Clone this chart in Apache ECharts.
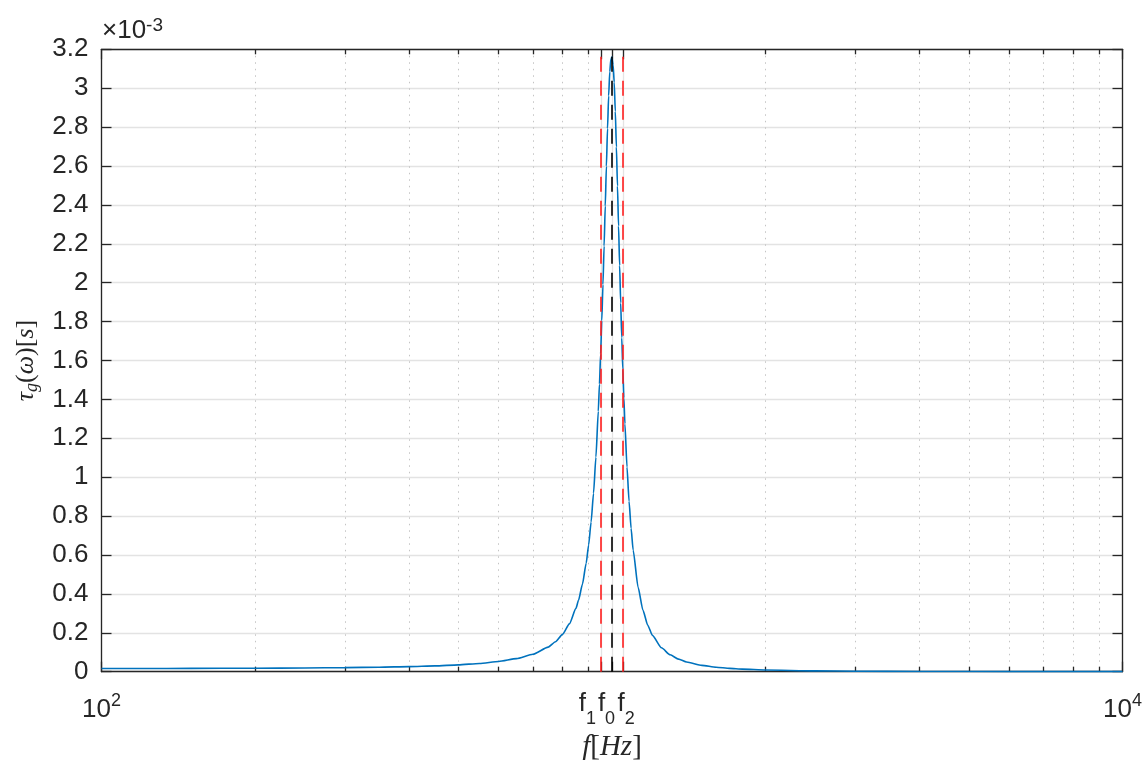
<!DOCTYPE html>
<html><head><meta charset="utf-8">
<script src="https://cdn.jsdelivr.net/npm/echarts@6/dist/echarts.min.js"></script>
<style>html,body{margin:0;padding:0;background:#fff}#c{width:1146px;height:760px}</style>
</head><body><div id="c"></div>
<script>
// ---- data ----
const freqHz = [100,120,150,200,250,300,350,400,450,500,550,600,650,700,750,775,800,825,850,860,875,890,900,910,920,930,940,945,950,955,960,965,970,975,980,985,990,995,1000,1005,1010,1015,1020,1025,1030,1035,1040,1045,1050,1055,1060,1070,1080,1090,1100,1125,1150,1175,1200,1250,1300,1350,1400,1500,1600,1700,1800,2000,2500,3000,4000,5000,7000,10000];
// group delay in units of 1e-3 s
const tauMs = [0.0164,0.0166,0.0170,0.0180,0.0192,0.0209,0.0232,0.0261,0.0300,0.0352,0.0424,0.0524,0.0670,0.0895,0.1262,0.1539,0.1919,0.2458,0.3255,0.3681,0.4490,0.5577,0.6517,0.769,0.9167,1.1033,1.3392,1.4787,1.634,1.8048,1.9906,2.189,2.394,2.599,2.7927,2.961,3.085,3.15,3.16,3.12,3.03,2.881,2.698,2.497,2.2908,2.088,1.8958,1.7172,1.5541,1.4068,1.2748,1.052,0.8761,0.7368,0.6258,0.4333,0.3153,0.2388,0.1867,0.1228,0.0868,0.0647,0.0500,0.0326,0.0230,0.0172,0.0134,0.0088,0.0042,0.0025,0.0012,0.0007,0.0003,0.0002];
const f0 = 1000, f1 = 951.25, f2 = 1051.25;
const xMajorTicks = [100, f1, f0, f2, 10000];
const xMinorTicks = [200,300,400,500,600,700,800,900,2000,3000,4000,5000,6000,7000,8000,9000];
const yMin = 0, yMax = 3.2, yStep = 0.2;

const TXT = '#262626';
const SANS = '"Liberation Sans", Arial, Helvetica, sans-serif';
const SERIF = '"Liberation Serif", "DejaVu Serif", serif';
const GRID = {left: 101.5, right: 23.5, top: 49.3, bottom: 88.3};

const chart = echarts.init(document.getElementById('c'), null, {renderer: 'canvas'});

const lblRich = {
  b: {fontSize: 26, fontFamily: SANS, color: TXT, verticalAlign: 'top', padding: [6.5, 0, 0, 0]},
  sup: {fontSize: 18, fontFamily: SANS, color: TXT, verticalAlign: 'top', padding: [1.5, 0, 0, 0]},
  bt: {fontSize: 26, fontFamily: SANS, color: TXT, verticalAlign: 'top', padding: [0, 0, 0, 0]},
  sub: {fontSize: 18, fontFamily: SANS, color: TXT, verticalAlign: 'top', padding: [19, 0, 0, 0]},
  gap1: {width: 27, fontSize: 1},
  gap0: {width: 11, fontSize: 1},
  gap2: {width: 6, fontSize: 1}
};
function xLabel(v) {
  if (Math.abs(v - 100) < 1e-6) return '{b|10}{sup|2}';
  if (Math.abs(v - 10000) < 1e-3) return '{b|10}{sup|4}';
  if (Math.abs(v - f1) < 1e-6) return '{bt|f}{sub|1}{gap1| }';
  if (Math.abs(v - f0) < 1e-6) return '{bt|f}{sub|0}{gap0| }';
  if (Math.abs(v - f2) < 1e-6) return '{gap2| }{bt|f}{sub|2}';
  return '';
}
const baseX = {type: 'log', logBase: 10, min: 100, max: 10000, gridIndex: 0};
const option = {
  animation: false,
  backgroundColor: '#fff',
  grid: Object.assign({outerBoundsMode: 'none', containLabel: false}, GRID),
  xAxis: [
    Object.assign({}, baseX, {
      position: 'bottom',
      name: '{i|f}{n|[}{i|Hz}{n|]}', nameLocation: 'middle', nameGap: 57,
      nameTextStyle: {rich: {
        i: {fontFamily: SERIF, fontStyle: 'italic', fontSize: 29, color: TXT},
        n: {fontFamily: SERIF, fontSize: 29, color: TXT}
      }},
      axisLine: {show: true, lineStyle: {color: TXT, width: 1.3}},
      axisTick: {show: true, inside: true, length: 10, customValues: xMajorTicks, lineStyle: {color: TXT, width: 1.3}},
      axisLabel: {show: true, customValues: xMajorTicks, formatter: xLabel, rich: lblRich, margin: 19, hideOverlap: false},
      splitLine: {show: true, lineStyle: {color: '#e3e3e3', width: 1.3}},
      minorTick: {show: false}
    }),
    Object.assign({}, baseX, {
      position: 'bottom',
      axisLine: {show: false},
      axisTick: {show: true, inside: true, length: 5, customValues: xMinorTicks, lineStyle: {color: TXT, width: 1.3}},
      axisLabel: {show: false},
      splitLine: {show: true, lineStyle: {color: '#c4c4c4', width: 1, type: [1.5, 5]}}
    }),
    Object.assign({}, baseX, {
      position: 'top',
      axisLine: {show: true, lineStyle: {color: TXT, width: 1.3}},
      axisTick: {show: true, inside: true, length: 10, customValues: xMajorTicks, lineStyle: {color: TXT, width: 1.3}},
      axisLabel: {show: false},
      splitLine: {show: false}
    }),
    Object.assign({}, baseX, {
      position: 'top',
      axisLine: {show: false},
      axisTick: {show: true, inside: true, length: 5, customValues: xMinorTicks, lineStyle: {color: TXT, width: 1.3}},
      axisLabel: {show: false},
      splitLine: {show: false}
    })
  ],
  yAxis: [
    {
      type: 'value', min: yMin, max: yMax, interval: yStep, position: 'left',
      name: '{i|τ}{sub|g}{n|(}{i|ω}{n|)[}{i|s}{n|]}', nameLocation: 'middle', nameGap: 60, nameRotate: 90,
      nameTextStyle: {rich: {
        i: {fontFamily: SERIF, fontStyle: 'italic', fontSize: 26, color: TXT, lineHeight: 30},
        n: {fontFamily: SERIF, fontSize: 26, color: TXT, lineHeight: 30},
        sub: {fontFamily: SERIF, fontStyle: 'italic', fontSize: 18, color: TXT, lineHeight: 12, verticalAlign: 'bottom'}
      }},
      axisLine: {show: true, lineStyle: {color: TXT, width: 1.3}},
      axisTick: {show: true, inside: true, length: 10, lineStyle: {color: TXT, width: 1.3}},
      axisLabel: {show: true, fontSize: 26, fontFamily: SANS, color: TXT, margin: 13,
        formatter: v => String(parseFloat(v.toFixed(1)))},
      splitLine: {show: true, lineStyle: {color: '#e3e3e3', width: 1.3}}
    },
    {
      type: 'value', min: yMin, max: yMax, interval: yStep, position: 'right',
      axisLine: {show: true, lineStyle: {color: TXT, width: 1.3}},
      axisTick: {show: true, inside: true, length: 10, lineStyle: {color: TXT, width: 1.3}},
      axisLabel: {show: false},
      splitLine: {show: false}
    }
  ],
  graphic: [{
    type: 'text', left: 102, top: 16, z: 10,
    style: {
      text: '{b|×10}{sup|-3}',
      rich: {
        b: {fontSize: 26, fontFamily: SANS, fill: TXT, lineHeight: 30},
        sup: {fontSize: 19, fontFamily: SANS, fill: TXT, lineHeight: 12, verticalAlign: 'top'}
      }
    }
  }],
  series: [
    {
      type: 'line', xAxisIndex: 0, yAxisIndex: 0, z: 3,
      data: freqHz.map((f, i) => [f, tauMs[i]]),
      showSymbol: false, smooth: 0.2, smoothMonotone: 'x',
      lineStyle: {color: '#0072BD', width: 1.6}, itemStyle: {color: '#0072BD'}
    },
    {
      type: 'line', xAxisIndex: 0, yAxisIndex: 0, z: 5, data: [],
      markLine: {
        silent: true, symbol: 'none', label: {show: false},
        lineStyle: {color: '#ff1f1f', width: 1.6, type: [15, 9]},
        data: [{xAxis: f1}, {xAxis: f2}]
      }
    },
    {
      type: 'line', xAxisIndex: 0, yAxisIndex: 0, z: 5, data: [],
      markLine: {
        silent: true, symbol: 'none', label: {show: false},
        lineStyle: {color: '#000000', width: 1.6, type: [15, 9]},
        data: [{xAxis: f0}]
      }
    }
  ]
};
chart.setOption(option);
</script>
</body></html>
